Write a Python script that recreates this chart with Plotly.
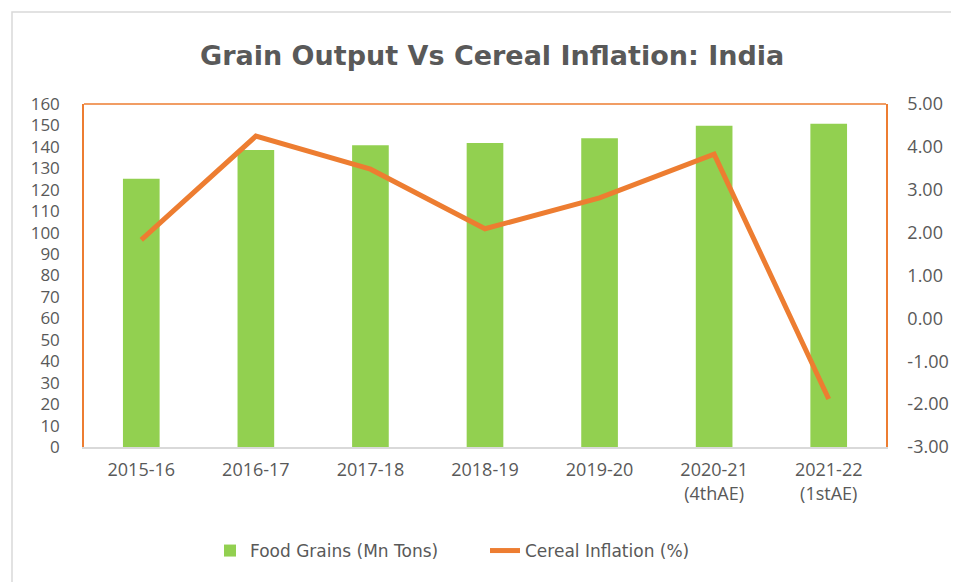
import plotly.graph_objects as go

categories = ["2015-16", "2016-17", "2017-18", "2018-19", "2019-20", "2020-21<br>(4thAE)", "2021-22<br>(1stAE)"]
food_grains = [125.1, 138.5, 140.7, 141.8, 144.0, 149.9, 150.8]
cereal_inflation = [1.83, 4.25, 3.48, 2.09, 2.81, 3.83, -1.88]
left_ticks = list(range(0, 161, 10))
right_tick_vals = [-3, -2, -1, 0, 1, 2, 3, 4, 5]
right_tick_text = ["-3.00", "-2.00", "-1.00", "0.00", "1.00", "2.00", "3.00", "4.00", "5.00"]

TICK_FONT = "Open Sans"
TEXT_FONT = "DejaVu Sans"
GREY = "#595959"
GREEN = "#92D050"
ORANGE = "#ED7D31"

OFF = 8  # page body margin
W, H = 959 - OFF, 582 - OFF
L, R, T, B = 84 - OFF, 886 - OFF, 104 - OFF, 447 - OFF

def px(x):
    return (x - OFF - L) / (R - L)

def py(y):
    return (B - (y - OFF)) / (B - T)

fig = go.Figure()
fig.add_trace(go.Bar(x=categories, y=food_grains, name="Food Grains (Mn Tons)",
                     marker=dict(color=GREEN, line=dict(width=0)), width=0.32, yaxis="y"))
fig.add_trace(go.Scatter(x=categories, y=cereal_inflation, name="Cereal Inflation (%)",
                         mode="lines", line=dict(color=ORANGE, width=5), yaxis="y2"))

fig.update_layout(
    width=W, height=H,
    margin=dict(l=L, r=W - R, t=T, b=H - B, autoexpand=False),
    paper_bgcolor="white", plot_bgcolor="white",
    font=dict(family=TICK_FONT, color=GREY, size=17),
    showlegend=True,
    legend=dict(orientation="h", x=px(210), xanchor="left", y=py(551), yanchor="middle",
                font=dict(size=17, color=GREY, family=TEXT_FONT), entrywidth=230,
                traceorder="normal"),
    xaxis=dict(showgrid=False, showline=True, linecolor="#D9D9D9", linewidth=1.5,
               tickfont=dict(size=18, color=GREY), ticks="outside", ticklen=6, tickcolor="rgba(0,0,0,0)"),
    yaxis=dict(range=[0, 160], tickvals=left_ticks, showgrid=False, showline=True,
               linecolor=ORANGE, linewidth=1.5, zeroline=False,
               tickfont=dict(size=17, color=GREY), ticklabelstandoff=19),
    yaxis2=dict(range=[-3, 5], tickvals=right_tick_vals, ticktext=right_tick_text,
                overlaying="y", side="right", showgrid=False, showline=True,
                linecolor=ORANGE, linewidth=1.5, zeroline=False,
                tickfont=dict(size=18, color=GREY), ticklabelstandoff=16),
    annotations=[dict(text="<b>Grain Output Vs Cereal Inflation: India</b>", xref="paper", yref="paper",
                      x=px(492), y=py(55), xanchor="center", yanchor="middle", showarrow=False,
                      font=dict(size=27, color=GREY, family=TEXT_FONT))],
    shapes=[
        dict(type="line", xref="paper", yref="paper", x0=0, x1=1, y0=1, y1=1,
             line=dict(color=ORANGE, width=1.5)),
        dict(type="rect", xref="paper", yref="paper", x0=px(12), x1=px(975), y0=py(12), y1=py(600),
             line=dict(color="#D9D9D9", width=1.5), layer="below"),
    ],
)

fig.write_html("out.html")
